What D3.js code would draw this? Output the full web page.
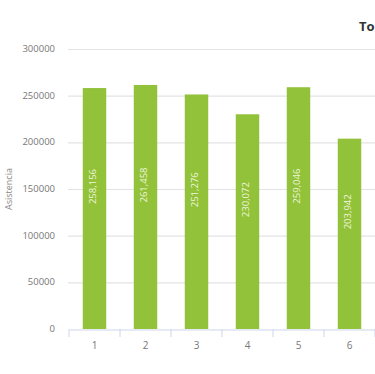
<!DOCTYPE html>
<html lang="es">
<head>
    <meta charset="utf-8">
    <script type="text/javascript" src="https://cdn.jsdelivr.net/npm/d3@7/dist/d3.min.js"></script>
    <style>
        body { margin: 0; background: #fff; overflow: hidden; }
        text { font-family: "Open Sans", sans-serif; }
    </style>
</head>
<body>
<script type="text/javascript">

    // Data
    let jornadas = ["1", "2", "3", "4", "5", "6"];
    let asistencia = [258156, 261458, 251276, 230072, 259046, 203942];
    let etiquetas = ["258,156", "261,458", "251,276", "230,072", "259,046", "203,942"];
    let yTicks = [0, 50000, 100000, 150000, 200000, 250000, 300000];

    let w = 375;
    let h = 374;

    let svg = d3.select("body")
        .append("svg")
        .attr("width", w)
        .attr("height", h);

    let x = d3.scaleBand()
        .domain(jornadas)
        .range([69, 375])
        .paddingInner(0.54)
        .paddingOuter(0.27);

    let y = d3.scaleLinear()
        .domain([0, 300000])
        .range([329, 49]);

    // title (only its start is visible in the window)
    svg.append("text")
        .attr("x", 359)
        .attr("y", 31)
        .style("font-size", "13px")
        .style("font-weight", "bold")
        .style("fill", "#333")
        .text("To");

    // grid lines
    svg.append("g")
        .selectAll("line")
        .data(yTicks.filter(d => d > 0))
        .enter()
        .append("line")
        .attr("x1", 68)
        .attr("x2", w)
        .attr("y1", d => y(d) + 0.5)
        .attr("y2", d => y(d) + 0.5)
        .style("stroke", "#e3e3e3")
        .style("stroke-width", 1.2);

    // y axis labels
    svg.append("g")
        .selectAll("text")
        .data(yTicks)
        .enter()
        .append("text")
        .attr("x", 55)
        .attr("y", d => y(d) + 3)
        .attr("text-anchor", "end")
        .style("font-size", "9.5px")
        .style("fill", "#777")
        .text(d => d);

    svg.append("text")
        .attr("transform", "translate(12," + y(150000) + ") rotate(-90)")
        .attr("text-anchor", "middle")
        .style("font-size", "9px")
        .style("fill", "#888")
        .text("Asistencia");

    // x axis
    let xAxis = svg.append("g")
        .attr("transform", "translate(0," + (y(0) + 0.5) + ")")
        .call(d3.axisBottom(x).tickSize(0).tickPadding(12));
    xAxis.select(".domain").style("stroke", "#ccd6eb").style("stroke-width", 1.2);
    xAxis.selectAll("text")
        .style("font-size", "10px")
        .style("fill", "#777")
        .style("font-family", "'Open Sans', sans-serif");

    let step = x.step();
    let tickPos = jornadas.map(d => x(d) - (step - x.bandwidth()) / 2);
    tickPos.push(tickPos[tickPos.length - 1] + step);
    svg.append("g")
        .selectAll("line")
        .data(tickPos)
        .enter()
        .append("line")
        .attr("x1", d => d)
        .attr("x2", d => d)
        .attr("y1", y(0))
        .attr("y2", y(0) + 8)
        .style("stroke", "#ccd6eb")
        .style("stroke-width", 1);

    // bars
    svg.append("g")
        .selectAll("rect")
        .data(asistencia)
        .enter()
        .append("rect")
        .attr("x", (d, i) => x(jornadas[i]))
        .attr("y", d => y(d))
        .attr("width", x.bandwidth())
        .attr("height", d => y(0) - y(d))
        .style("fill", "#92c13a");

    // labels in bars
    svg.append("g")
        .selectAll("text")
        .data(asistencia)
        .enter()
        .append("text")
        .attr("transform", (d, i) => "translate(" + (x(jornadas[i]) + x.bandwidth() / 2 + 1) + "," + ((y(d) + y(0)) / 2 - 22) + ") rotate(-90)")
        .attr("text-anchor", "middle")
        .style("font-size", "9.5px")
        .style("fill", "#eef6d8")
        .text((d, i) => etiquetas[i]);

</script>
</body>
</html>
